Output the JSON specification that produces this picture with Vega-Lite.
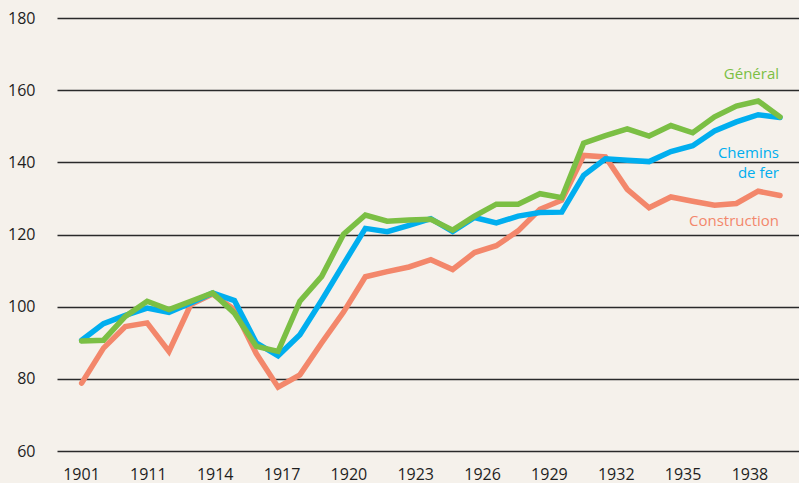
{
  "$schema": "https://vega.github.io/schema/vega-lite/v6.json",
  "width": 742,
  "height": 433,
  "autosize": {"type": "none"},
  "padding": {"left": 57, "top": 18, "right": 0, "bottom": 32},
  "background": "#F5F1EB",
  "config": {"view": {"stroke": null}, "font": "Open Sans"},
  "datasets": {
    "indices": [
      {"year": 1901, "Général": 90.5, "Chemins de fer": 90.7, "Construction": 78.8},
      {"year": 1906, "Général": 90.7, "Chemins de fer": 95.3, "Construction": 88.5},
      {"year": 1910, "Général": 97.3, "Chemins de fer": 97.6, "Construction": 94.5},
      {"year": 1911, "Général": 101.5, "Chemins de fer": 99.6, "Construction": 95.5},
      {"year": 1912, "Général": 99.2, "Chemins de fer": 98.4, "Construction": 87.6},
      {"year": 1913, "Général": 101.5, "Chemins de fer": 101.0, "Construction": 100.6},
      {"year": 1914, "Général": 103.8, "Chemins de fer": 103.8, "Construction": 103.5},
      {"year": 1915, "Général": 98.2, "Chemins de fer": 101.7, "Construction": 99.2},
      {"year": 1916, "Général": 89.0, "Chemins de fer": 90.0, "Construction": 87.0},
      {"year": 1917, "Général": 87.6, "Chemins de fer": 86.4, "Construction": 77.7},
      {"year": 1918, "Général": 101.5, "Chemins de fer": 92.2, "Construction": 81.1},
      {"year": 1919, "Général": 108.4, "Chemins de fer": 101.8, "Construction": 90.0},
      {"year": 1920, "Général": 120.1, "Chemins de fer": 111.8, "Construction": 98.5},
      {"year": 1921, "Général": 125.4, "Chemins de fer": 121.7, "Construction": 108.3},
      {"year": 1922, "Général": 123.7, "Chemins de fer": 120.8, "Construction": 109.7},
      {"year": 1923, "Général": 124.0, "Chemins de fer": 122.5, "Construction": 111.0},
      {"year": 1924, "Général": 124.2, "Chemins de fer": 124.4, "Construction": 113.0},
      {"year": 1925, "Général": 121.2, "Chemins de fer": 120.8, "Construction": 110.3},
      {"year": 1926, "Général": 125.1, "Chemins de fer": 124.7, "Construction": 115.0},
      {"year": 1927, "Général": 128.4, "Chemins de fer": 123.2, "Construction": 116.9},
      {"year": 1928, "Général": 128.4, "Chemins de fer": 125.1, "Construction": 121.0},
      {"year": 1929, "Général": 131.3, "Chemins de fer": 126.1, "Construction": 127.0},
      {"year": 1930, "Général": 130.2, "Chemins de fer": 126.2, "Construction": 129.5},
      {"year": 1931, "Général": 145.3, "Chemins de fer": 136.4, "Construction": 141.9},
      {"year": 1932, "Général": 147.4, "Chemins de fer": 141.0, "Construction": 141.5},
      {"year": 1933, "Général": 149.3, "Chemins de fer": 140.6, "Construction": 132.5},
      {"year": 1934, "Général": 147.3, "Chemins de fer": 140.2, "Construction": 127.4},
      {"year": 1935, "Général": 150.2, "Chemins de fer": 143.0, "Construction": 130.4},
      {"year": 1936, "Général": 148.2, "Chemins de fer": 144.6, "Construction": 129.2},
      {"year": 1937, "Général": 152.6, "Chemins de fer": 148.7, "Construction": 128.1},
      {"year": 1938, "Général": 155.6, "Chemins de fer": 151.2, "Construction": 128.6},
      {"year": 1939, "Général": 157.0, "Chemins de fer": 153.2, "Construction": 132.0},
      {"year": 1940, "Général": 152.6, "Chemins de fer": 152.4, "Construction": 130.8}
    ]
  },
  "layer": [
    {
      "data": {"name": "indices"},
      "transform": [
        {"fold": ["Construction", "Chemins de fer", "Général"], "as": ["series", "value"]}
      ],
      "encoding": {
        "x": {"field": "year", "type": "ordinal", "scale": {"padding": 1.0575, "align": 0.565}, "axis": null},
        "y": {
          "field": "value",
          "type": "quantitative",
          "scale": {"domain": [60, 180], "nice": false, "zero": false},
          "axis": {
            "values": [60, 80, 100, 120, 140, 160, 180],
            "title": null,
            "domain": false,
            "ticks": false,
            "tickSize": 0,
            "grid": true,
            "gridColor": "#2a2a2a",
            "gridWidth": 1.3,
            "labelPadding": 22,
            "labelFontSize": 16,
            "labelFontWeight": 500,
            "labelColor": "#1e1e1e",
            "labelFont": "Open Sans"
          }
        },
        "color": {
          "field": "series",
          "type": "nominal",
          "scale": {
            "domain": ["Construction", "Chemins de fer", "Général"],
            "range": ["#F3876B", "#00AEEF", "#7BBF44"]
          },
          "legend": null
        }
      },
      "layer": [
        {
          "mark": {"type": "line", "strokeWidth": 5.5, "strokeCap": "round"}
        },
        {
          "transform": [{"filter": "datum.year == 1940 && datum.series == 'Général'"}],
          "mark": {"type": "text", "align": "right", "baseline": "middle", "fontSize": 15, "fontWeight": 500, "dx": -1, "dy": -43, "text": "Général"}
        },
        {
          "transform": [{"filter": "datum.year == 1940 && datum.series == 'Chemins de fer'"}],
          "mark": {"type": "text", "align": "right", "baseline": "middle", "fontSize": 15, "fontWeight": 500, "dx": -1, "dy": 35, "lineHeight": 20, "text": ["Chemins", "de fer"]}
        },
        {
          "transform": [{"filter": "datum.year == 1940 && datum.series == 'Construction'"}],
          "mark": {"type": "text", "align": "right", "baseline": "middle", "fontSize": 15, "fontWeight": 500, "dx": -1, "dy": 25, "text": "Construction"}
        }
      ]
    },
    {
      "data": {"name": "indices"},
      "mark": {"type": "point", "opacity": 0},
      "encoding": {
        "x": {
          "field": "year",
          "type": "ordinal",
          "scale": {"range": [24, 737], "padding": 0},
          "axis": {
            "orient": "bottom",
            "values": [1901, 1911, 1914, 1917, 1920, 1923, 1926, 1929, 1932, 1935, 1938],
            "title": null,
            "domain": false,
            "ticks": false,
            "tickSize": 0,
            "grid": false,
            "labelAngle": 0,
            "labelPadding": 15,
            "labelFontSize": 16,
            "labelFontWeight": 500,
            "labelColor": "#1e1e1e",
            "labelFont": "Open Sans"
          }
        }
      }
    }
  ],
  "resolve": {"scale": {"x": "independent"}, "axis": {"x": "independent"}}
}
